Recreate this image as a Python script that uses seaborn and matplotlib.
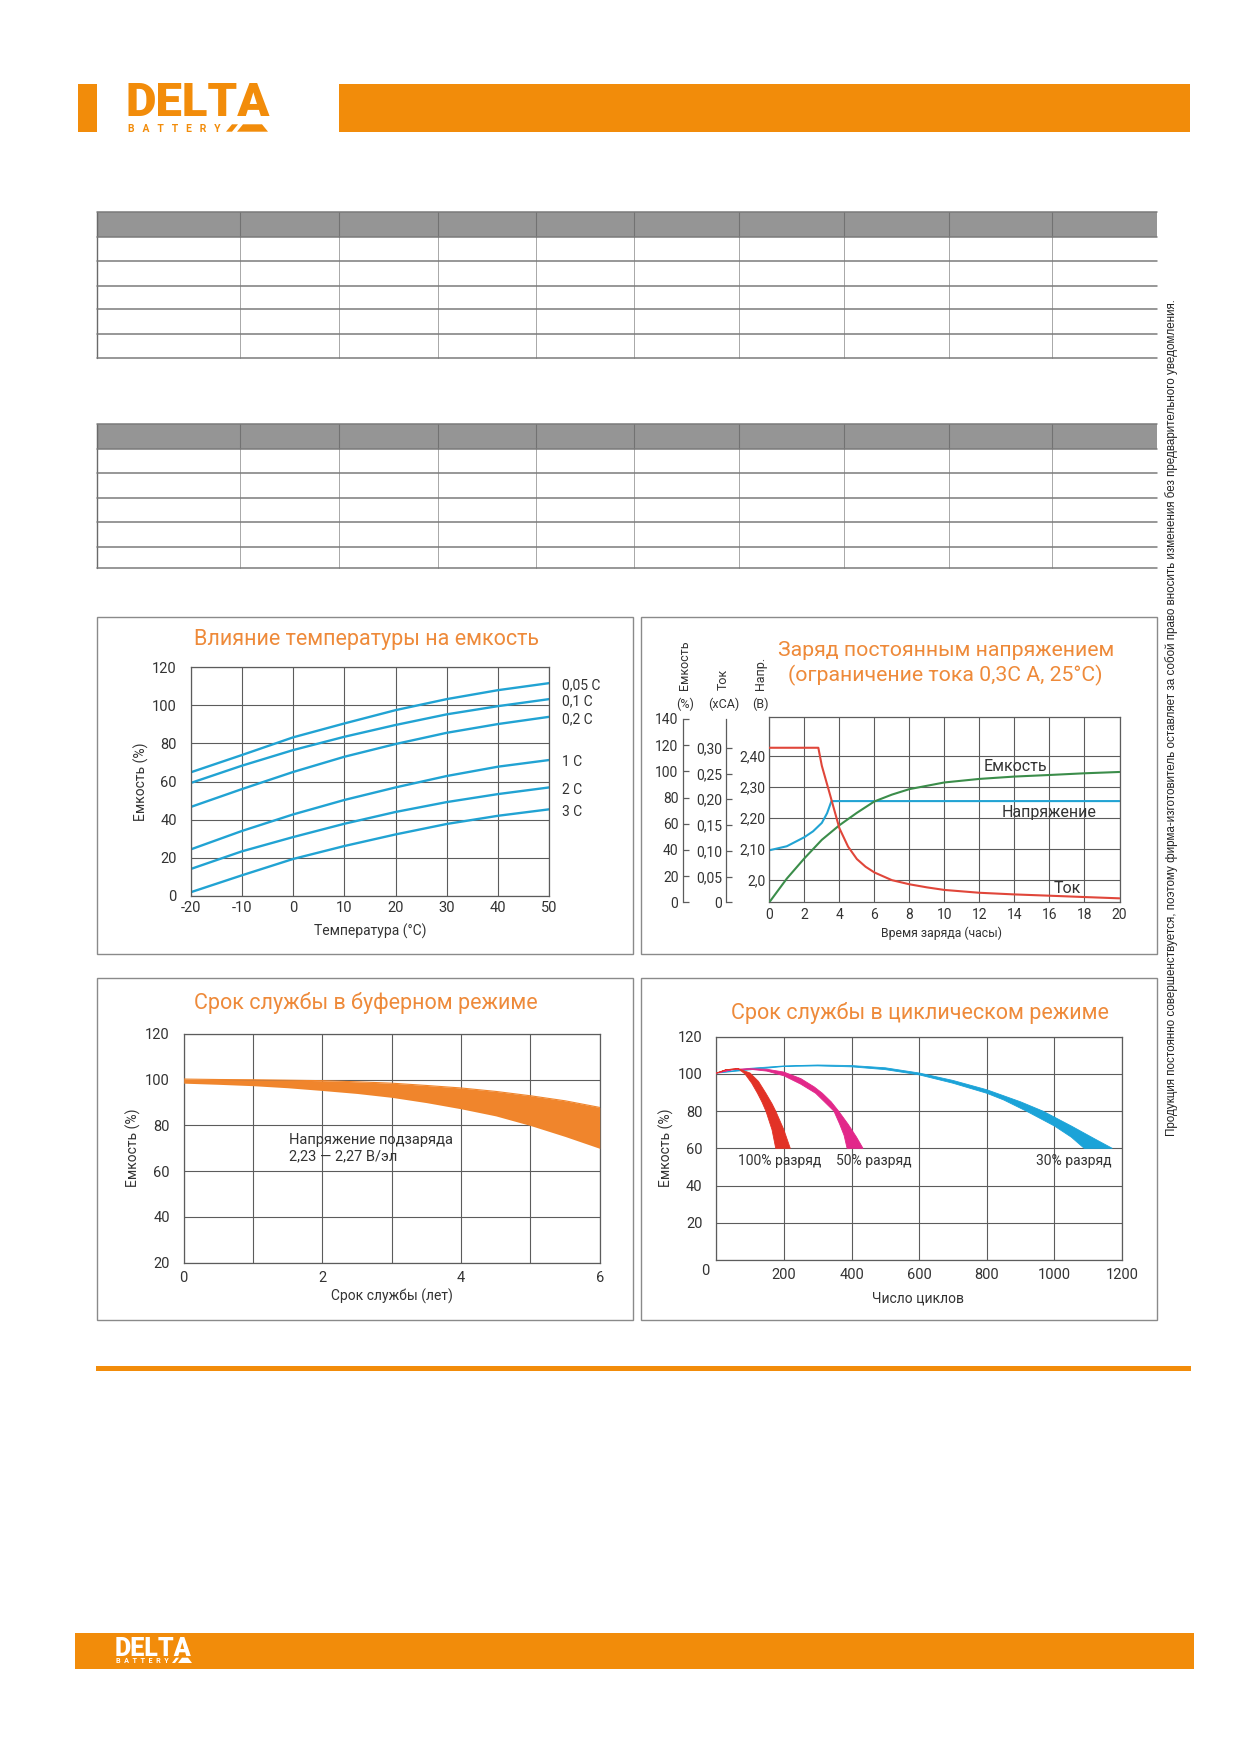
import numpy as np
import pandas as pd
import seaborn as sns
import matplotlib
matplotlib.use('Agg')
import matplotlib.pyplot as plt
from matplotlib.patches import Rectangle, Polygon

# ---------------- values ----------------
# temperature vs capacity
temp_c = [-20, -10, 0, 10, 20, 30, 40, 50]
cap_005c = [64.8, 73.9, 83.2, 90.5, 97.5, 103.3, 108.0, 111.7]
cap_01c = [59.2, 68.3, 76.5, 83.5, 89.7, 95.3, 99.6, 103.3]
cap_02c = [46.6, 56.0, 65.0, 73.0, 79.7, 85.6, 90.2, 94.0]
cap_1c = [24.3, 34.0, 42.7, 50.3, 56.9, 62.9, 67.8, 71.3]
cap_2c = [14.0, 23.3, 30.8, 37.8, 44.0, 49.2, 53.4, 56.9]
cap_3c = [1.8, 10.7, 19.3, 26.1, 32.2, 37.7, 42.0, 45.4]
rate_names = ['0,05 C', '0,1 C', '0,2 C', '1 C', '2 C', '3 C']

# constant voltage charge
chg_h_current = [0, 2.8, 3.0, 3.5, 4, 4.5, 5, 5.5, 6, 7, 8, 9, 10, 12, 14, 16, 18, 20]
chg_current = [0.30, 0.30, 0.265, 0.205, 0.144, 0.108, 0.084, 0.069, 0.058, 0.043, 0.035,
               0.029, 0.024, 0.0185, 0.0153, 0.0128, 0.0102, 0.0077]
chg_h_voltage = [0, 1, 2, 2.5, 3, 3.3, 3.55, 20]
chg_voltage = [2.096, 2.109, 2.138, 2.157, 2.184, 2.215, 2.254, 2.254]
chg_h_capacity = [0, 1, 2, 3, 4, 5, 6, 7, 8, 10, 12, 14, 16, 18, 20]
chg_capacity = [0, 18.1, 33.5, 47.7, 58.8, 68.3, 77.0, 82.2, 86.4, 91.5, 94.2, 96.0, 97.2, 98.5, 99.5]

# float service life
float_years = [0, 0.5, 1, 1.5, 2, 2.5, 3, 3.5, 4, 4.5, 5, 5.5, 6]
float_upper = [100.3, 100.1, 100.0, 99.8, 99.6, 99.1, 98.5, 97.5, 96.4, 94.9, 93.0, 90.8, 87.9]
float_lower = [98.5, 98.0, 97.4, 96.5, 95.3, 94.0, 92.3, 90.0, 87.3, 84.2, 80.0, 75.2, 70.0]

# cycle service life (outer / inner edge of each band)
cyc100_outer_x = [0, 30, 65, 100, 125, 147, 165, 176, 200, 219]
cyc100_outer_y = [100.4, 102.3, 102.8, 100.5, 96.0, 89.6, 84.0, 80.0, 70.0, 60.0]
cyc100_inner_x = [0, 30, 65, 85, 105, 122, 135, 147, 165, 176]
cyc100_inner_y = [100.4, 102.3, 102.8, 100.0, 95.0, 89.6, 85.0, 80.0, 70.0, 60.0]

cyc50_outer_x = [0, 50, 100, 150, 200, 250, 290, 314, 340, 362, 390, 415, 434]
cyc50_outer_y = [100.4, 102.5, 102.8, 102.5, 101.0, 97.5, 93.0, 89.6, 85.0, 80.0, 73.0, 66.0, 60.0]
cyc50_inner_x = [0, 50, 100, 150, 200, 250, 294, 320, 348, 365, 378, 387]
cyc50_inner_y = [100.4, 102.3, 102.5, 101.5, 99.0, 94.5, 89.6, 85.0, 80.0, 73.0, 67.0, 60.0]

cyc30_outer_x = [0, 100, 200, 300, 400, 500, 600, 700, 800, 900, 966, 1050, 1120, 1171]
cyc30_outer_y = [100.4, 103.0, 104.3, 104.8, 104.5, 103.3, 100.5, 96.5, 91.5, 85.0, 80.0, 72.0, 65.0, 60.0]
cyc30_inner_x = [0, 200, 300, 400, 500, 600, 700, 800, 850, 917, 1000, 1050, 1088]
cyc30_inner_y = [100.4, 104.0, 104.3, 103.8, 102.3, 99.5, 95.0, 89.6, 86.0, 80.0, 72.0, 66.0, 60.0]
cycle_names = ['100% разряд', '50% разряд', '30% разряд']

# ---------------- page setup ----------------
W, H = 1239, 1752
ORANGE = '#F28C0A'
TITLE_OR = '#EE8A3A'
BLUE = '#21A3D3'
GRID = '#5c5c5c'
TXT = '#333333'

sns.set_theme(style='white')
plt.rcParams['font.family'] = ['Roboto', 'DejaVu Sans']
plt.rcParams['axes.edgecolor'] = GRID
plt.rcParams['xtick.color'] = TXT
plt.rcParams['ytick.color'] = TXT

fig = plt.figure(figsize=(W / 100, H / 100), dpi=100)
fig.patch.set_facecolor('white')

bg = fig.add_axes([0, 0, 1, 1])
bg.set_xlim(0, W)
bg.set_ylim(H, 0)
bg.axis('off')


def px_axes(x0, y0, x1, y1):
    return fig.add_axes([x0 / W, 1 - y1 / H, (x1 - x0) / W, (y1 - y0) / H])


def style_grid(ax):
    ax.grid(True, color=GRID, lw=0.8)
    for s in ax.spines.values():
        s.set_color(GRID)
        s.set_linewidth(0.9)
    ax.tick_params(length=0)


# header
bg.add_patch(Rectangle((78, 84), 19, 48, color=ORANGE, lw=0))
bg.add_patch(Rectangle((339, 84), 851, 48, color=ORANGE, lw=0))
bg.text(126, 115.5, 'DELTA', fontsize=34, weight='black', color=ORANGE, ha='left', va='baseline')
bg.text(128, 131.7, 'B   A   T   T   E   R   Y', fontsize=7.5, weight='bold', color=ORANGE,
        ha='left', va='baseline')
bg.add_patch(Polygon([(226, 131.7), (232, 124.3), (238, 124.3), (232, 131.7)], color=ORANGE, lw=0))
bg.add_patch(Polygon([(237, 131.7), (243, 124.3), (262, 124.3), (268, 131.7)], color=ORANGE, lw=0))

# empty spec tables
col_x = [97, 240, 339, 437.5, 536, 634, 739, 844, 949, 1052, 1157]
for rows in ([211.7, 236.7, 260.7, 285.7, 309.3, 334.3, 358.3],
             [424.3, 449.3, 473.3, 498.3, 522.3, 547.3, 568.3]):
    bg.add_patch(Rectangle((col_x[0], rows[0]), col_x[-1] - col_x[0], rows[1] - rows[0],
                           color='#959595', lw=0))
    for x in col_x[:-1]:
        bg.plot([x, x], [rows[0], rows[1]], color='#727272', lw=0.8)
        bg.plot([x, x], [rows[1], rows[-1]], color='#9a9a9a', lw=0.6)
    bg.plot([col_x[0], col_x[0]], [rows[0], rows[-1]], color='#6a6a6a', lw=1.0)
    for y in rows:
        bg.plot([col_x[0], col_x[-1]], [y, y], color='#7a7a7a', lw=1.1)

# panel frames
for (x0, y0, x1, y1) in [(97, 616.5, 633, 954), (641, 616.5, 1157, 954),
                         (97, 978, 633, 1320), (641, 978, 1157, 1320)]:
    bg.add_patch(Rectangle((x0, y0), x1 - x0, y1 - y0, fill=False, ec='#8a8a8a', lw=1.0))

# ---------------- chart 1: temperature ----------------
ax1 = px_axes(190.6, 667.3, 549.4, 895.7)
curves1 = [cap_005c, cap_01c, cap_02c, cap_1c, cap_2c, cap_3c]
df1 = pd.DataFrame({
    'temp': temp_c * len(curves1),
    'cap': np.concatenate(curves1),
    'rate': np.repeat(rate_names, len(temp_c)),
})
sns.lineplot(data=df1, x='temp', y='cap', hue='rate', hue_order=rate_names,
             palette=[BLUE] * len(rate_names), legend=False, lw=1.7, ax=ax1)
ax1.set_xlim(-20, 50)
ax1.set_ylim(0, 120)
ax1.set_xticks(range(-20, 51, 10))
ax1.set_xticklabels(['-20', '-10', '0', '10', '20', '30', '40', '50'])
ax1.set_yticks(range(0, 121, 20))
style_grid(ax1)
ax1.tick_params(axis='y', pad=10, labelsize=10.5)
ax1.tick_params(axis='x', pad=4, labelsize=10.5)
ax1.set_xlabel('')
ax1.set_ylabel('')
for name, vals in zip(rate_names, curves1):
    ax1.text(52.5, vals[-1] - 1.2, name, fontsize=10, color=TXT, va='center', ha='left', clip_on=False)
bg.text(367, 640, 'Влияние температуры на емкость', fontsize=15.5, color=TITLE_OR, ha='center', va='center')
bg.text(141.7, 781.5, 'Емкость (%)', fontsize=10, color=TXT, rotation=90, ha='center', va='center')
bg.text(370.7, 931, 'Температура (°C)', fontsize=10, color=TXT, ha='center', va='center')

# ---------------- chart 2: constant voltage charge ----------------
ax2 = px_axes(769.3, 716.7, 1119.5, 902.3)
sns.lineplot(x=chg_h_voltage, y=chg_voltage, color=BLUE, lw=1.5, ax=ax2)
ax2.set_xlim(0, 20)
ax2.set_ylim(1.929, 2.525)
ax2.set_xticks(range(0, 21, 2))
ax2.set_yticks([2.0, 2.1, 2.2, 2.3, 2.4])
ax2.set_yticklabels(['2,0', '2,10', '2,20', '2,30', '2,40'])
style_grid(ax2)
ax2.tick_params(axis='both', labelsize=10)
ax2.tick_params(axis='y', pad=3)
ax2.tick_params(axis='x', pad=4)

axc = ax2.twinx()
sns.lineplot(x=chg_h_capacity, y=chg_capacity, color='#3B8D4A', lw=1.5, ax=axc)
axc.set_ylim(0, 141.7)
axc.set_yticks(range(0, 141, 20))

axi = ax2.twinx()
sns.lineplot(x=chg_h_current, y=chg_current, color='#E0463A', lw=1.5, ax=axi)
axi.set_ylim(0, 0.3603)
axi.set_yticks([0, 0.05, 0.10, 0.15, 0.20, 0.25, 0.30])
axi.set_yticklabels(['0', '0,05', '0,10', '0,15', '0,20', '0,25', '0,30'])

for tw, off, top in [(axc, 62.4, 140), (axi, 31.2, 0.355)]:
    tw.grid(False)
    for side in ('right', 'top', 'bottom'):
        tw.spines[side].set_visible(False)
    tw.spines['left'].set_visible(True)
    tw.spines['left'].set_position(('outward', off))
    tw.spines['left'].set_bounds(0, top)
    tw.spines['left'].set_color(GRID)
    tw.spines['left'].set_linewidth(0.9)
    tw.yaxis.set_ticks_position('left')
    tw.yaxis.set_label_position('left')
    tw.tick_params(axis='y', direction='in', length=4, width=0.9, color=GRID, pad=3, labelsize=10)
    tw.set_ylabel('')
for a in (ax2, axc, axi):
    a.set_xlabel('')
ax2.set_ylabel('')

ax2.text(12.25, 2.364, 'Емкость', fontsize=11.5, color=TXT, ha='left', va='center')
ax2.text(13.25, 2.218, 'Напряжение', fontsize=11.5, color=TXT, ha='left', va='center')
ax2.text(16.25, 1.972, 'Ток', fontsize=11.5, color=TXT, ha='left', va='center')

bg.text(945.7, 650, 'Заряд постоянным напряжением', fontsize=15.3, color=TITLE_OR, ha='center', va='center')
bg.text(945.7, 675, '(ограничение тока 0,3С А, 25°С)', fontsize=15.3, color=TITLE_OR, ha='center', va='center')
for x, head, unit in [(684.7, 'Емкость', '(%)'), (723.5, 'Ток', '(xCA)'), (760, 'Напр.', '(B)')]:
    bg.text(x, 690, head, fontsize=9, color=TXT, rotation=90, ha='center', va='bottom')
    bg.text(x, 704, unit, fontsize=9, color=TXT, ha='center', va='center')
bg.text(941.7, 933.3, 'Время заряда (часы)', fontsize=8.8, color=TXT, ha='center', va='center')

# ---------------- chart 3: float life ----------------
ax3 = px_axes(183.7, 1034, 599.7, 1262.7)
ax3.fill_between(float_years, float_lower, float_upper, color='#F0852C', lw=0, zorder=3)
sns.lineplot(x=float_years, y=float_upper, color='#F0852C', lw=0.8, ax=ax3, zorder=3)
ax3.set_xlim(0, 6)
ax3.set_ylim(20, 120)
ax3.set_xticks(range(0, 7))
ax3.set_xticklabels(['0', '', '2', '', '4', '', '6'])
ax3.set_yticks(range(20, 121, 20))
style_grid(ax3)
ax3.tick_params(axis='y', pad=10, labelsize=10.5)
ax3.tick_params(axis='x', pad=6, labelsize=10.5)
ax3.set_xlabel('')
ax3.set_ylabel('')
ax3.text(1.52, 70.2, 'Напряжение подзаряда\n2,23 — 2,27 В/эл', fontsize=10.5, color=TXT,
         ha='left', va='center', linespacing=1.25)
bg.text(366, 1002.7, 'Срок службы в буферном режиме', fontsize=15.5, color=TITLE_OR, ha='center', va='center')
bg.text(133, 1148, 'Емкость (%)', fontsize=10, color=TXT, rotation=90, ha='center', va='center')
bg.text(392.4, 1296.7, 'Срок службы (лет)', fontsize=10, color=TXT, ha='center', va='center')

# ---------------- chart 4: cycle life ----------------
ax4 = px_axes(716.2, 1036.7, 1122.1, 1260)
bands = [(cyc30_outer_x, cyc30_outer_y, cyc30_inner_x, cyc30_inner_y, '#1BA3D8'),
         (cyc50_outer_x, cyc50_outer_y, cyc50_inner_x, cyc50_inner_y, '#E2288A'),
         (cyc100_outer_x, cyc100_outer_y, cyc100_inner_x, cyc100_inner_y, '#E23226')]
for ox, oy, ix, iy, col in bands:
    ax4.fill(np.concatenate([ox, ix[::-1]]), np.concatenate([oy, iy[::-1]]), color=col, lw=0.6, zorder=3)
ax4.set_xlim(0, 1200)
ax4.set_ylim(0, 120)
ax4.set_xticks(range(0, 1201, 200))
ax4.set_xticklabels(['', '200', '400', '600', '800', '1000', '1200'])
ax4.set_yticks(range(0, 121, 20))
ax4.set_yticklabels(['', '20', '40', '60', '80', '100', '120'])
style_grid(ax4)
ax4.tick_params(axis='y', pad=10, labelsize=10.5)
ax4.tick_params(axis='x', pad=6, labelsize=10.5)
ax4.text(-0.018, -0.02, '0', transform=ax4.transAxes, fontsize=10.5, color=TXT, ha='right', va='top')
ax4.text(64, 53.2, cycle_names[0], fontsize=10, color=TXT, ha='left', va='center')
ax4.text(355, 53.2, cycle_names[1], fontsize=10, color=TXT, ha='left', va='center')
ax4.text(1169, 53.2, cycle_names[2], fontsize=10, color=TXT, ha='right', va='center')
bg.text(920, 1012.7, 'Срок службы в циклическом режиме', fontsize=15.5, color=TITLE_OR, ha='center', va='center')
bg.text(666.5, 1148, 'Емкость (%)', fontsize=10, color=TXT, rotation=90, ha='center', va='center')
bg.text(918.5, 1298.3, 'Число циклов', fontsize=10, color=TXT, ha='center', va='center')

# side note
bg.text(1172, 718, 'Продукция постоянно совершенствуется, поэтому фирма-изготовитель оставляет за собой право '
        'вносить изменения без предварительного уведомления.',
        rotation=90, ha='center', va='center', fontsize=8.4, color='#222222',
        family=['Liberation Sans', 'DejaVu Sans'])

# footer
bg.add_patch(Rectangle((96, 1366), 1095, 4.5, color=ORANGE, lw=0))
bg.add_patch(Rectangle((75, 1633), 1119, 36, color=ORANGE, lw=0))
bg.text(115, 1655.5, 'DELTA', fontsize=18, weight='black', color='white', ha='left', va='baseline')
bg.text(116.5, 1663.2, 'B  A  T  T  E  R  Y', fontsize=5.2, weight='bold', color='white',
        ha='left', va='baseline')
bg.add_patch(Polygon([(172, 1663), (176, 1657.7), (179, 1657.7), (175, 1663)], color='white', lw=0))
bg.add_patch(Polygon([(178, 1663), (182, 1657.7), (188, 1657.7), (192, 1663)], color='white', lw=0))

fig.savefig('out.png', dpi=100, facecolor='white')
